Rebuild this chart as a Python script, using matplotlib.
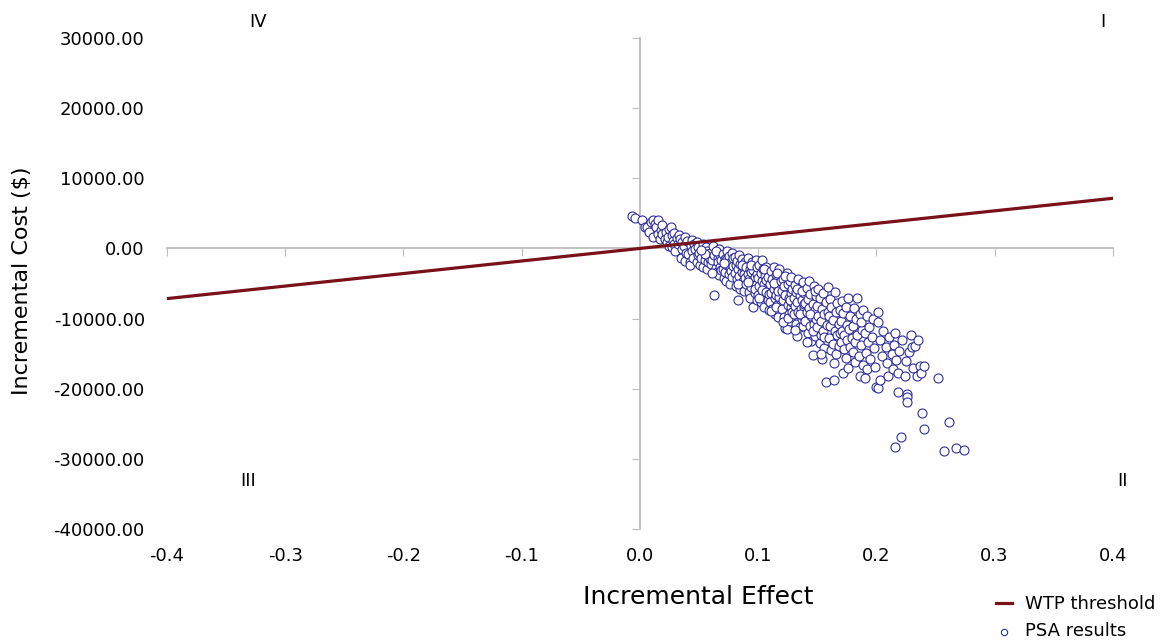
import matplotlib
matplotlib.use("Agg")
import matplotlib.pyplot as plt

# WTP threshold line end points (effect, cost)
wtp_effect = [-0.4, 0.4]
wtp_cost = [-7150, 7150]

# PSA results (effect, cost), grouped by effect
psa_points = [
    (-0.007, 4600), (-0.004, 4400), (0.002, 4100), (0.004, 3100), (0.006, 3000), (0.008, 2300), (0.009, 3700),
    (0.011, 4100), (0.011, 1600), (0.013, 3500), (0.014, 3000), (0.015, 4000), (0.015, 2000), (0.017, 1300),
    (0.018, 2600), (0.019, 2000), (0.019, 3300),
    (0.021, 1300), (0.022, 2400), (0.023, 900), (0.024, 1600), (0.025, 2800), (0.025, 280), (0.026, 3000),
    (0.027, 140), (0.027, 1900), (0.028, 1100), (0.029, 600), (0.029, 2200),
    (0.030, -300), (0.031, 1500), (0.032, 700), (0.033, 1900), (0.034, 1300), (0.035, -1300), (0.036, -140),
    (0.036, 900), (0.037, 400), (0.038, -1850), (0.038, 1600), (0.039, -600),
    (0.040, 1000), (0.041, -850), (0.042, -2000), (0.042, -2300), (0.043, 300), (0.044, -400), (0.044, 1200),
    (0.045, -1400), (0.046, 600), (0.047, -100), (0.048, 850), (0.048, -1900), (0.049, -900), (0.049, 200),
    (0.050, -600), (0.051, -2300), (0.052, -1300), (0.053, 570), (0.053, -2600), (0.054, -300), (0.055, -1700),
    (0.056, 200), (0.057, -430), (0.057, -3000), (0.058, -1100), (0.058, -2000), (0.059, -700), (0.059, -1500),
    (0.055, -800), (0.052, -200),
    (0.060, -2200), (0.061, -1600), (0.062, 280), (0.063, -6700), (0.063, -900), (0.064, -2800), (0.065, -570),
    (0.065, -3400), (0.066, -1300), (0.066, -2000), (0.067, -3800), (0.067, -100), (0.068, -2600), (0.068, -1000),
    (0.069, -3100), (0.069, -1700), (0.061, -3500), (0.064, -400),
    (0.070, -850), (0.070, -2900), (0.071, -4200), (0.072, -3400), (0.072, -1500), (0.073, -1600), (0.073, -4700),
    (0.074, -2300), (0.074, -300), (0.075, -3700), (0.075, -1100), (0.076, -2600), (0.076, -5100), (0.077, -1900),
    (0.077, -3200), (0.078, -700), (0.078, -4000), (0.079, -2500), (0.079, -1400), (0.071, -2100),
    (0.080, -3500), (0.080, -1200), (0.081, -2400), (0.081, -5300), (0.082, -4400), (0.082, -1800), (0.083, -7400),
    (0.083, -3000), (0.084, -900), (0.084, -3900), (0.085, -2200), (0.085, -5800), (0.086, -3300), (0.086, -1500),
    (0.087, -4700), (0.087, -2700), (0.088, -6100), (0.088, -3600), (0.089, -1900), (0.089, -4200), (0.083, -5000),
    (0.086, -2400),
    (0.090, -2600), (0.090, -5000), (0.091, -3700), (0.091, -1300), (0.092, -6200), (0.092, -4300), (0.093, -2900),
    (0.093, -7000), (0.094, -3400), (0.094, -5500), (0.095, -2000), (0.095, -4600), (0.096, -8400), (0.096, -3100),
    (0.097, -6400), (0.097, -4000), (0.098, -1700), (0.098, -5200), (0.099, -3600), (0.099, -7300), (0.091, -4800),
    (0.094, -2400), (0.097, -5800), (0.099, -2700),
    (0.100, -4200), (0.100, -6600), (0.101, -2300), (0.101, -5400), (0.102, -3500), (0.102, -7700), (0.103, -4700),
    (0.103, -1600), (0.104, -6000), (0.104, -3000), (0.105, -8300), (0.105, -5100), (0.106, -3900), (0.106, -6900),
    (0.107, -2600), (0.107, -4500), (0.108, -7400), (0.108, -5700), (0.109, -3300), (0.109, -8800), (0.101, -7100),
    (0.103, -5900), (0.105, -2900), (0.107, -6200), (0.108, -4000), (0.109, -6500),
    (0.110, -5000), (0.110, -7600), (0.111, -3200), (0.111, -6300), (0.112, -8600), (0.112, -4400), (0.113, -5800),
    (0.113, -2600), (0.114, -7100), (0.114, -9300), (0.115, -3800), (0.115, -6600), (0.116, -5300), (0.116, -8000),
    (0.117, -4100), (0.117, -9800), (0.118, -6900), (0.118, -3000), (0.119, -5600), (0.119, -7900), (0.111, -8900),
    (0.113, -4900), (0.115, -8300), (0.117, -6100), (0.119, -4600), (0.116, -3500),
    (0.120, -6000), (0.120, -8700), (0.121, -4300), (0.121, -7300), (0.122, -9800), (0.122, -5400), (0.123, -11400),
    (0.123, -6600), (0.124, -11500), (0.124, -3500), (0.125, -8100), (0.125, -5000), (0.126, -7000), (0.126, -9400),
    (0.127, -4600), (0.127, -10300), (0.128, -6300), (0.128, -8300), (0.129, -5800), (0.129, -7700), (0.121, -10500),
    (0.123, -3900), (0.125, -9900), (0.127, -7400), (0.128, -4100), (0.129, -9000),
    (0.130, -7000), (0.130, -9400), (0.131, -5200), (0.131, -8200), (0.132, -10700), (0.132, -6200), (0.133, -12500),
    (0.133, -7600), (0.134, -4300), (0.134, -9000), (0.135, -6700), (0.135, -11200), (0.136, -8600), (0.136, -5500),
    (0.137, -10000), (0.137, -7300), (0.138, -4800), (0.138, -9700), (0.139, -6400), (0.139, -8400), (0.131, -11600),
    (0.133, -5800), (0.135, -9300), (0.137, -6000), (0.138, -11000), (0.139, -7900),
    (0.140, -7800), (0.140, -10400), (0.141, -5600), (0.141, -9000), (0.142, -12000), (0.142, -7200), (0.143, -4700),
    (0.143, -8500), (0.144, -11100), (0.144, -6500), (0.145, -9600), (0.145, -13200), (0.146, -15200), (0.146, -7900),
    (0.147, -10800), (0.147, -5300), (0.148, -8800), (0.148, -12500), (0.149, -6800), (0.149, -10000), (0.141, -13400),
    (0.144, -9300), (0.146, -11700), (0.148, -6000),
    (0.150, -8200), (0.150, -11200), (0.151, -5800), (0.151, -9700), (0.152, -13500), (0.152, -7100), (0.153, -10400),
    (0.153, -12300), (0.154, -15800), (0.154, -8700), (0.155, -6400), (0.155, -11800), (0.156, -9400), (0.156, -14200),
    (0.157, -19100), (0.157, -7700), (0.158, -10900), (0.158, -13000), (0.159, -5500), (0.159, -9000), (0.153, -15100),
    (0.156, -12600),
    (0.160, -9600), (0.160, -12700), (0.161, -7200), (0.161, -11000), (0.162, -14500), (0.162, -8400), (0.163, -10200),
    (0.163, -13600), (0.164, -18800), (0.164, -16400), (0.165, -6200), (0.165, -11800), (0.166, -9000), (0.166, -15000),
    (0.167, -12300), (0.167, -7800), (0.168, -10700), (0.168, -13900), (0.169, -8800), (0.169, -12000),
    (0.170, -10300), (0.170, -13300), (0.171, -7500), (0.171, -11700), (0.172, -17700), (0.172, -9200), (0.173, -14400),
    (0.173, -12400), (0.174, -8300), (0.174, -15600), (0.175, -10900), (0.175, -13000), (0.176, -17000), (0.176, -7100),
    (0.177, -11500), (0.178, -14000), (0.178, -9600), (0.179, -12800),
    (0.180, -11000), (0.180, -14700), (0.181, -8500), (0.182, -13300), (0.182, -16200), (0.183, -10100), (0.184, -7100),
    (0.184, -12400), (0.185, -15300), (0.186, -18200), (0.186, -9300), (0.187, -13800), (0.188, -11600),
    (0.189, -16600), (0.189, -8800), (0.187, -10500),
    (0.190, -18500), (0.190, -12000), (0.191, -14900), (0.192, -17200), (0.192, -9700), (0.193, -13300),
    (0.194, -11200), (0.195, -15800), (0.196, -12600), (0.197, -10000), (0.198, -14200), (0.199, -16900),
    (0.200, -19700), (0.201, -19900), (0.201, -9000), (0.201, -10500), (0.203, -18700), (0.203, -13000),
    (0.205, -15400), (0.206, -11800), (0.208, -14000), (0.209, -16300),
    (0.210, -18200), (0.211, -12600), (0.213, -15000), (0.214, -17200), (0.215, -13800), (0.216, -12100),
    (0.217, -15900), (0.218, -20400), (0.218, -17700), (0.219, -14600),
    (0.221, -26900), (0.216, -28300), (0.222, -13100), (0.224, -18200), (0.225, -16000), (0.226, -20800),
    (0.226, -21200), (0.226, -21900), (0.228, -14700),
    (0.229, -12300), (0.230, -14100), (0.231, -17100), (0.233, -13900), (0.234, -18200), (0.235, -13000),
    (0.237, -16700), (0.238, -17800), (0.239, -23400), (0.240, -16700), (0.240, -25800),
    (0.252, -18500), (0.257, -28900), (0.261, -24800), (0.267, -28500), (0.274, -28800),
]
psa_effect = [p[0] for p in psa_points]
psa_cost = [p[1] for p in psa_points]

x_ticks = [-0.4, -0.3, -0.2, -0.1, 0.0, 0.1, 0.2, 0.3, 0.4]
y_ticks = [-40000, -30000, -20000, -10000, 0, 10000, 20000, 30000]

# quadrant labels (name, effect, cost)
quadrants = [("IV", -0.323, 32300), ("I", 0.3915, 32300), ("III", -0.331, -33200), ("II", 0.408, -33200)]

plt.rcParams['font.family'] = ['DejaVu Sans']

fig = plt.figure(figsize=(11.62, 6.40), dpi=100)
ax = fig.add_axes([0.1437, 0.1734, 0.814, 0.7672])

ax.plot(wtp_effect, wtp_cost, color="#7a1018", linewidth=2.3, zorder=4, label="WTP threshold")
ax.scatter(psa_effect, psa_cost, s=42, facecolors="white", edgecolors="#2e2e9e", linewidths=0.8,
           zorder=3, label="PSA results")

ax.set_xlim(-0.4, 0.4)
ax.set_ylim(-40000, 30000)
ax.set_xticks(x_ticks)
ax.set_yticks(y_ticks)
ax.set_xticklabels(["%.1f" % v for v in x_ticks])
ax.set_yticklabels(["%.2f" % v for v in y_ticks])

# the axis lines cross at the origin, labels stay at the outer edges
ax.spines['left'].set_visible(False)
ax.spines['bottom'].set_visible(False)
ax.spines['top'].set_position(('data', 0))
ax.spines['right'].set_position(('data', 0))
for s in ['top', 'right']:
    ax.spines[s].set_color("#bdbdbd")
    ax.spines[s].set_linewidth(1.3)
    ax.spines[s].set_zorder(1)
ax.tick_params(axis='x', bottom=False, top=True, labelbottom=True, labeltop=False,
               direction='in', length=6, color="#bdbdbd", pad=13, labelsize=13)
ax.tick_params(axis='y', left=False, right=True, labelleft=True, labelright=False,
               direction='in', length=6, color="#bdbdbd", pad=16, labelsize=13)

for name, qx, qy in quadrants:
    ax.text(qx, qy, name, fontsize=13, ha="center", va="center", clip_on=False)

fig.text(0.601, 0.067, "Incremental Effect", fontsize=18, ha="center", va="center")
fig.text(0.019, 0.562, "Incremental Cost ($)", fontsize=16, ha="center", va="center", rotation=90)

fig.legend(loc="upper left", bbox_to_anchor=(0.843, 0.095), frameon=False, fontsize=13,
           handlelength=0.9, handletextpad=0.7, labelspacing=0.5, borderpad=0.4, markerscale=0.7)

fig.savefig("out.png", dpi=100)
